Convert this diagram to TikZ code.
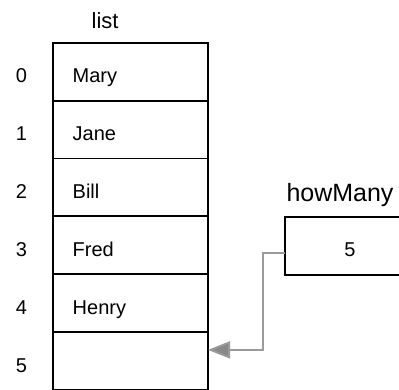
\documentclass[tikz,border=0pt]{standalone}
\usepackage{fontspec}
\setmainfont{Liberation Sans}
\usetikzlibrary{arrows.meta,calc}
\definecolor{ptrline}{HTML}{9A9A9A}
\definecolor{ptrhead}{HTML}{888888}
\begin{document}
\begin{tikzpicture}[x=1pt,y=-1pt,
  cell/.style={draw=black, line width=1.8pt, minimum width=155pt,
    minimum height=57.8pt, anchor=north west, inner sep=0pt, outer sep=0pt},
  entry/.style={anchor=base west, inner sep=0pt, font=\fontsize{20}{24}\selectfont},
  idx/.style={anchor=base, inner sep=0pt, font=\fontsize{20}{24}\selectfont},
  title/.style={anchor=base west, inner sep=0pt},
  ptr/.style={draw=ptrline, line width=1.8pt,
    -{Triangle[length=22pt,width=17pt,fill=ptrhead]}}]
\useasboundingbox (0,0) rectangle (399,390);

% array cells
\node[cell] (r0) at (53,43) {};
\node[cell] (r1) at (53,100.8) {};
\node[cell] (r2) at (53,158.6) {};
\node[cell] (r3) at (53,216.4) {};
\node[cell] (r4) at (53,274.2) {};
\node[cell] (r5) at (53,332) {};

% contents
\node[entry] (t0) at (72.5,83) {Mary};
\node[entry] (t1) at (72.5,141) {Jane};
\node[entry] (t2) at (72.5,199) {Bill};
\node[entry] (t3) at (72.5,257) {Fred};
\node[entry] (t4) at (72.5,314) {Henry};

% indices
\node[idx] (i0) at (21.5,83) {0};
\node[idx] (i1) at (21.5,141) {1};
\node[idx] (i2) at (21.5,199) {2};
\node[idx] (i3) at (21.5,257) {3};
\node[idx] (i4) at (21.5,314) {4};
\node[idx] (i5) at (21.5,372) {5};

\node[title, font=\fontsize{22}{26}\selectfont] (lst) at (91.5,29) {list};

% counter variable
\node[cell, minimum width=135pt] (hm) at (285,216.8) {};
\node[idx] (hmv) at (350,257) {5};
\node[title, font=\fontsize{25}{30}\selectfont] (hmt) at (286.3,202) {howMany};

% pointer to the first free slot
\draw[ptr] ($(hm.west)+(0,7)$) -- ++(-22,0) |- ($(r5.east)+(0,-11)$);
\end{tikzpicture}
\end{document}
